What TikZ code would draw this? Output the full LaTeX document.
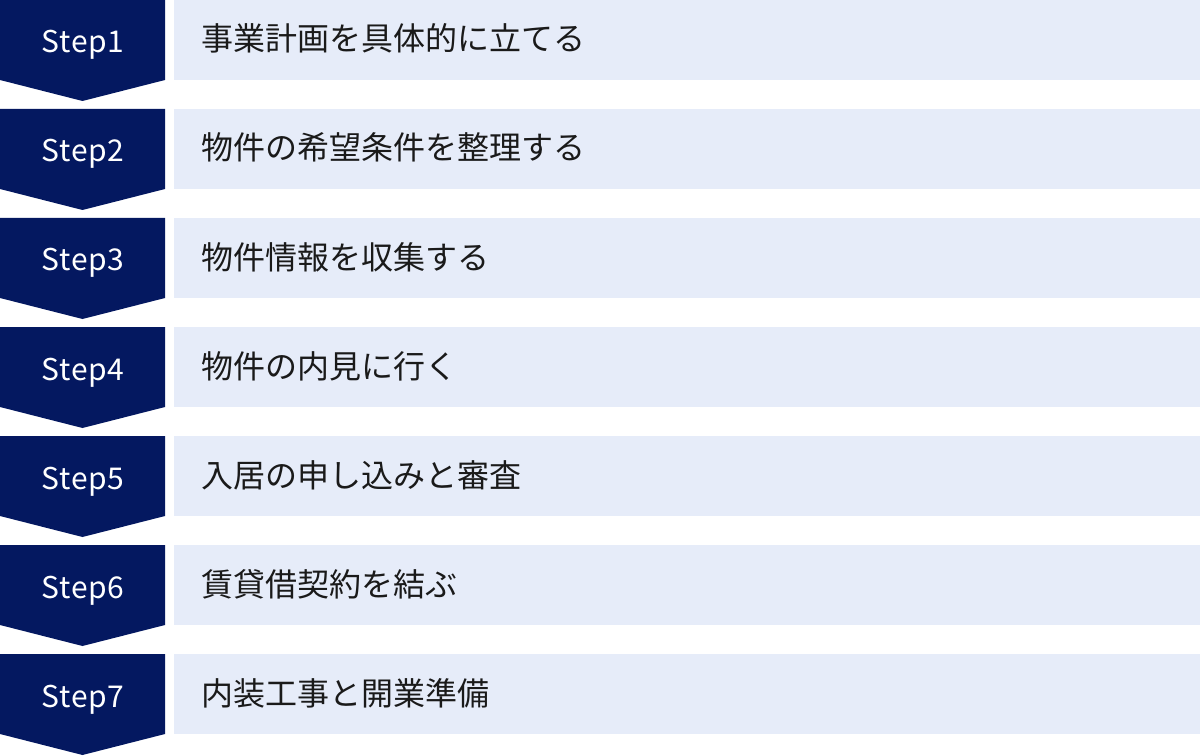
\documentclass[tikz,border=0pt]{standalone}
\usepackage{fontspec}
\setmainfont{Noto Sans}
\newfontfamily\jpfont{Noto Sans CJK JP}
\newfontfamily\stepfont[LetterSpace=2]{Noto Sans CJK JP}
\usepackage{tikz}
\usetikzlibrary{positioning}
\definecolor{stepnavy}{RGB}{4,24,96}
\definecolor{rowblue}{RGB}{230,236,249}
\definecolor{rowtext}{RGB}{26,26,26}

\begin{document}
\begin{tikzpicture}[x=0.75pt, y=-0.75pt,
  stepbadge/.style={fill=stepnavy},
  steplabel/.style={text=white, anchor=base, inner sep=0pt,
                    font=\stepfont\fontsize{22.5}{27}\selectfont},
  rowbox/.style={fill=rowblue, anchor=north west, inner sep=0pt,
                 minimum width=769.5pt, minimum height=60pt},
  rowlabel/.style={text=rowtext, anchor=base west, inner sep=0pt,
                   font=\jpfont\fontsize{24}{28}\selectfont}]
\useasboundingbox (0,0) rectangle (1200,756);
%
\foreach \txt [count=\i] in {事業計画を具体的に立てる, 物件の希望条件を整理する,
    物件情報を収集する, 物件の内見に行く, 入居の申し込みと審査,
    賃貸借契約を結ぶ, 内装工事と開業準備}
{
  \pgfmathsetmacro\rowtop{(\i-1)*109}
  % badge with arrow tip
  \fill[stepbadge] (0,\rowtop) -- ++(165,0) -- ++(0,80)
     -- ++(-82.5,21) -- ++(-82.5,-21) -- cycle;
  \node[steplabel] (step\i) at (83,\rowtop+53) {Step\i};
  % text row
  \node[rowbox] (row\i) at (174,\rowtop) {};
  \node[rowlabel] (text\i) at (201,\rowtop+51) {\txt};
}
%
\end{tikzpicture}
\end{document}
